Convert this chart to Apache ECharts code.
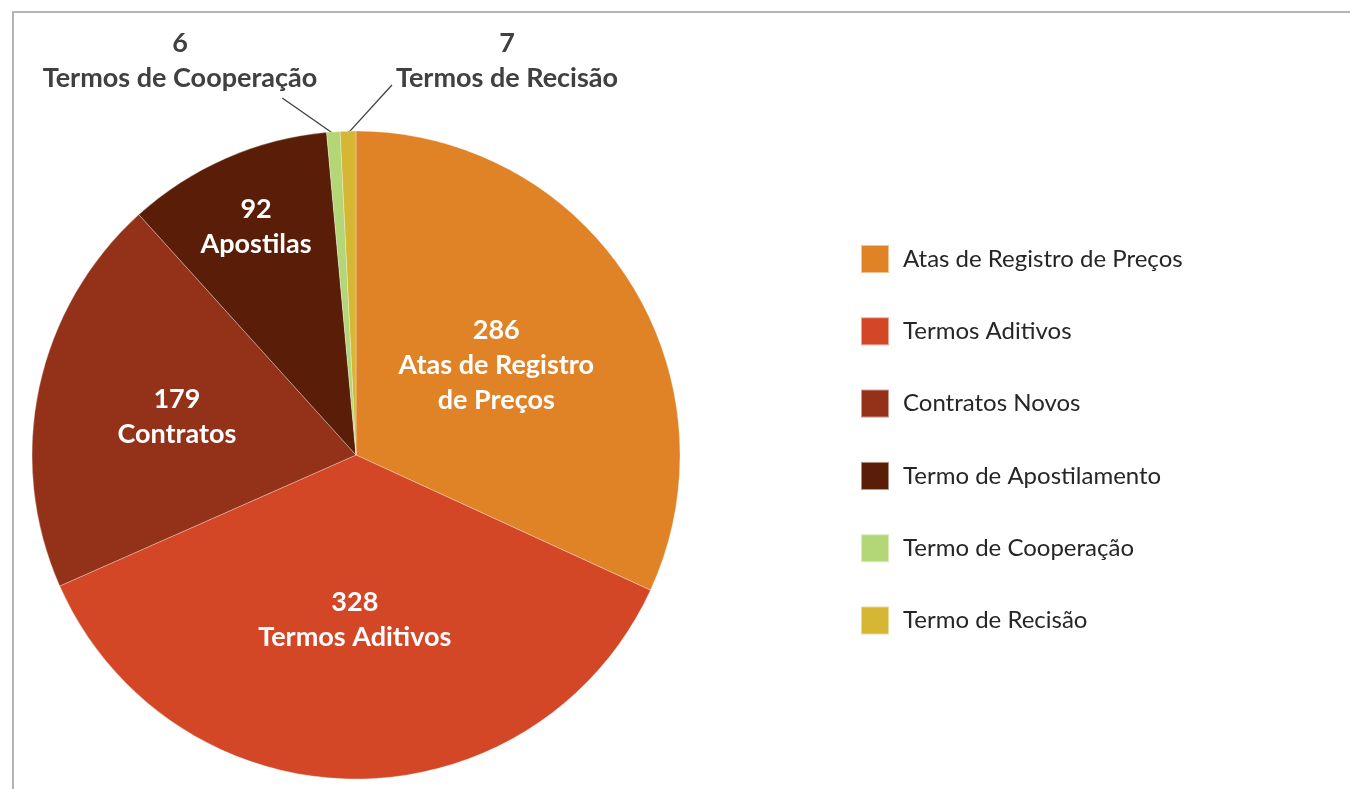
<!DOCTYPE html>
<html><head><meta charset="utf-8">
<script src="https://cdn.jsdelivr.net/npm/echarts@6/dist/echarts.min.js"></script>
<style>html,body{margin:0;padding:0;background:#fff;}#c{width:1350px;height:789px;}</style>
</head><body><div id="c"></div>
<script>
const categories = ['Atas de Registro de Preços','Termos Aditivos','Contratos Novos','Termo de Apostilamento','Termo de Cooperação','Termo de Recisão'];
const labelNames = ['Atas de Registro\nde Preços','Termos Aditivos','Contratos','Apostilas','Termos de Cooperação','Termos de Recisão'];
const values = [286, 328, 179, 92, 6, 7];
const colors = ['#E08326','#D34727','#933219','#5A1D07','#B3D776','#D5B733'];

const CX = 356, CY = 455, R = 324;
// radial factor for inside labels (relative to default mid-radius)
const radial = [1.01, 1.0, 1.11, 1.51];
// outside label centres
const outsidePos = {4: [180, 61], 5: [507, 61]};

const total = values.reduce((a, b) => a + b, 0);
function midAngle(i) { // clockwise from top, degrees
  let s = 0;
  for (let j = 0; j < i; j++) s += values[j];
  return (s + values[i] / 2) / total * 360;
}

const data = values.map((v, i) => {
  const inside = i < 4;
  return {
    name: categories[i],
    value: v,
    itemStyle: {color: colors[i]},
    label: inside ? {position: 'inside', color: '#fff'} : {position: 'outside', color: '#404040'},
    labelLine: {show: !inside}
  };
});

const chart = echarts.init(document.getElementById('c'), null, {renderer: 'canvas'});
chart.setOption({
  animation: false,
  backgroundColor: '#fff',
  graphic: [{
    type: 'polyline', silent: true,
    shape: {points: [[13, 789], [13, 12], [1350, 12]]},
    style: {stroke: '#b4b4b4', lineWidth: 2, fill: null}
  }],
  legend: {
    orient: 'vertical', left: 855, top: 239,
    itemWidth: 28, itemHeight: 28, itemGap: 42.3,
    icon: 'rect',
    textStyle: {fontFamily: 'Lato', fontSize: 24, color: '#262626', padding: [0, 0, 0, 9]},
    data: categories
  },
  series: [{
    type: 'pie',
    center: [CX, CY],
    radius: [0, R],
    startAngle: 90,
    clockwise: true,
    avoidLabelOverlap: false,
    itemStyle: {borderColor: 'rgba(255,255,255,0.5)', borderWidth: 0.6},
    label: {
      show: true,
      fontFamily: 'Lato', fontWeight: 'bold', fontSize: 27, lineHeight: 35,
      align: 'center',
      formatter: p => p.value + '\n' + labelNames[p.dataIndex]
    },
    labelLine: {show: true, length: 10, length2: 0, lineStyle: {color: '#404040', width: 1.3}},
    labelLayout: function (p) {
      const i = p.dataIndex;
      const r = p.labelRect;
      if (i < 4) {
        const lx = r.x + r.width / 2, ly = r.y + r.height / 2;
        const k = radial[i];
        return {x: CX + k * (lx - CX), y: CY + k * (ly - CY), align: 'center', verticalAlign: 'middle'};
      }
      const pos = outsidePos[i];
      const a = midAngle(i) * Math.PI / 180;
      const sx = CX + (R - 2) * Math.sin(a), sy = CY - (R - 2) * Math.cos(a);
      const left = pos[0] - r.width / 2, right = pos[0] + r.width / 2;
      const bottom = pos[1] + r.height / 2;
      const end = i === 4 ? [right - 35, bottom + 2] : [left - 4, pos[1] + 24];
      return {x: pos[0], y: pos[1], align: 'center', verticalAlign: 'middle',
              labelLinePoints: [[sx, sy], end, end]};
    },
    data: data
  }]
});
</script></body></html>
